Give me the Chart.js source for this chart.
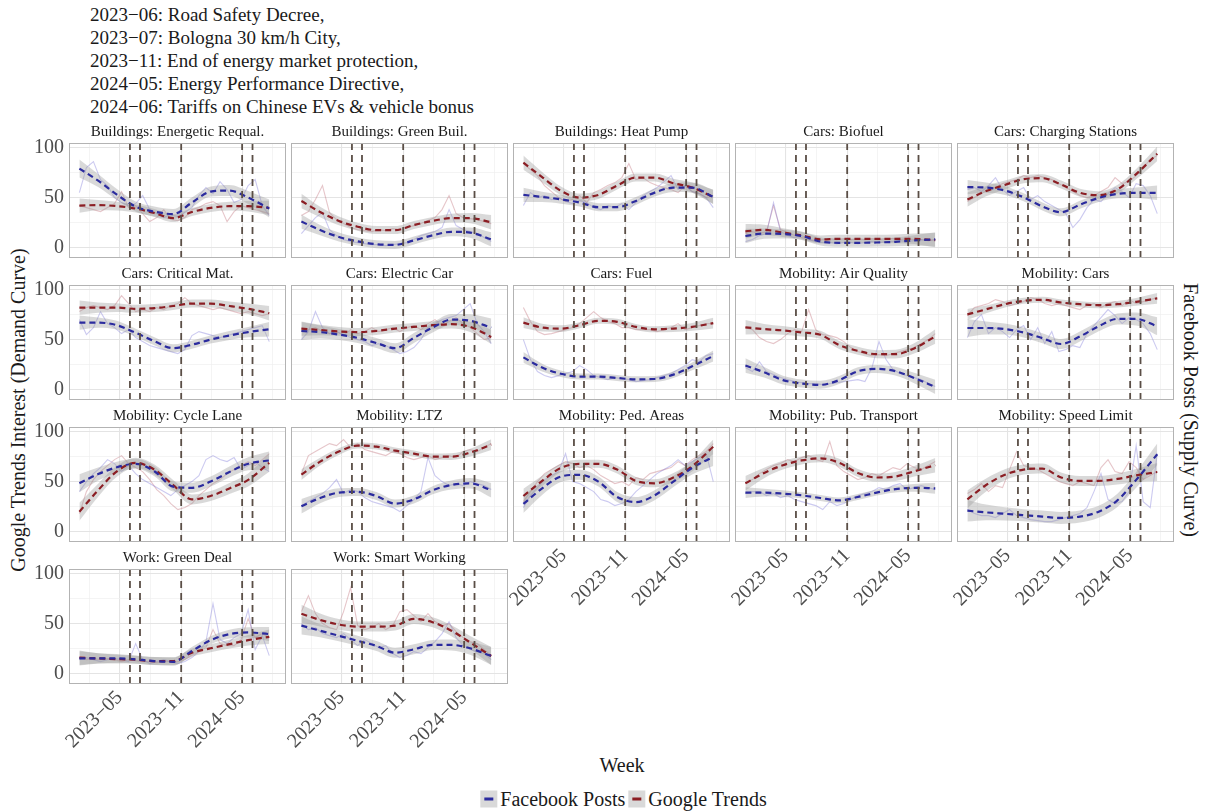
<!DOCTYPE html>
<html>
<head>
<meta charset="utf-8">
<script src="https://cdn.jsdelivr.net/npm/chart.js@4.4.1/dist/chart.umd.min.js"></script>
<style>
  body { margin: 0; background: #fff; width: 1205px; height: 811px; position: relative; overflow: hidden;
         font-family: 'Liberation Serif', 'DejaVu Serif', serif; color: #1a1a1a; }
  .panel { position: absolute; }
  #events { position: absolute; left: 90px; top: 3px; font-size: 19px; line-height: 23px; white-space: pre; }
  .axt { position: absolute; font-size: 20px; white-space: nowrap; }
  #ylab { left: 18px; top: 410px; transform: translate(-50%, -50%) rotate(-90deg); }
  #ylab2 { left: 1190px; top: 410px; transform: translate(-50%, -50%) rotate(90deg); }
  #xlab { left: 622px; top: 765px; transform: translate(-50%, -50%); }
  #legend { position: absolute; left: 625px; top: 799px; transform: translate(-50%, -50%);
            display: flex; align-items: center; font-size: 20px; white-space: nowrap; }
  .key { width: 17px; height: 17px; background: #d9d9d9; position: relative; margin-right: 3px; }
  .key span { position: absolute; left: 4px; top: 7px; width: 9px; height: 2.5px; }
  .item { display: flex; align-items: center; margin-right: 3px; }
</style>
</head>
<body>
<div id="events"></div>
<div class="axt" id="ylab">Google Trends Interest (Demand Curve)</div>
<div class="axt" id="ylab2">Facebook Posts (Supply Curve)</div>
<div class="axt" id="xlab">Week</div>
<div id="legend"></div>
<script>
// ---- data ----
const eventNotes = [
  '2023−06: Road Safety Decree,',
  '2023−07: Bologna 30 km/h City,',
  '2023−11: End of energy market protection,',
  '2024−05: Energy Performance Directive,',
  '2024−06: Tariffs on Chinese EVs & vehicle bonus'
];
const eventDates = ['2023-06-01', '2023-07-01', '2023-11-01', '2024-05-01', '2024-06-01'];

const facets = [
  'Buildings: Energetic Requal.', 'Buildings: Green Buil.', 'Buildings: Heat Pump', 'Cars: Biofuel', 'Cars: Charging Stations',
  'Cars: Critical Mat.', 'Cars: Electric Car', 'Cars: Fuel', 'Mobility: Air Quality', 'Mobility: Cars',
  'Mobility: Cycle Lane', 'Mobility: LTZ', 'Mobility: Ped. Areas', 'Mobility: Pub. Transport', 'Mobility: Speed Limit',
  'Work: Green Deal', 'Work: Smart Working'
];

const rawWeeks = [
  '2023-01-01', '2023-01-22', '2023-02-12', '2023-03-05', '2023-03-26', '2023-04-16', '2023-05-07',
  '2023-05-28', '2023-06-18', '2023-07-09', '2023-07-30', '2023-08-20', '2023-09-10', '2023-10-01',
  '2023-10-22', '2023-11-12', '2023-12-03', '2023-12-24', '2024-01-14', '2024-02-04', '2024-02-25',
  '2024-03-17', '2024-04-07', '2024-04-28', '2024-05-19', '2024-06-09', '2024-06-30', '2024-07-21'
];
const smoothWeeks = [
  '2023-01-01', '2023-02-26', '2023-04-23', '2023-06-18', '2023-08-13', '2023-10-08',
  '2023-12-03', '2024-01-28', '2024-03-24', '2024-05-19', '2024-07-21'
];

// weekly Facebook posts (raw)
const fbRaw = [
  [55, 80, 86, 68, 62, 50, 45, 42, 44, 52, 38, 34, 30, 33, 31, 35, 40, 52, 60, 54, 66, 58, 45, 48, 62, 68, 42, 32],
  [14, 22, 30, 35, 18, 12, 8, 6, 5, 4, 3, 3, 2, 3, 4, 5, 8, 12, 14, 16, 20, 38, 22, 18, 16, 14, 10, 6],
  [42, 55, 50, 52, 48, 50, 46, 44, 47, 45, 40, 38, 42, 40, 44, 38, 45, 52, 56, 60, 66, 72, 58, 62, 56, 54, 50, 40],
  [6, 8, 12, 14, 45, 16, 12, 10, 12, 8, 6, 5, 5, 4, 5, 5, 4, 5, 6, 5, 6, 6, 7, 6, 7, 8, 7, 8],
  [58, 60, 56, 62, 70, 58, 52, 56, 60, 48, 52, 46, 42, 38, 34, 20, 28, 40, 48, 46, 54, 60, 56, 50, 64, 62, 52, 34],
  [70, 55, 62, 78, 66, 62, 56, 60, 52, 48, 44, 42, 40, 38, 36, 40, 54, 58, 56, 54, 52, 54, 56, 58, 60, 62, 64, 48],
  [50, 58, 78, 62, 56, 58, 55, 52, 50, 48, 44, 46, 44, 40, 36, 38, 42, 50, 62, 66, 70, 72, 74, 80, 86, 66, 58, 46],
  [50, 30, 18, 14, 12, 14, 16, 18, 24, 20, 14, 12, 10, 12, 11, 10, 8, 9, 10, 12, 14, 16, 20, 24, 30, 28, 34, 36],
  [22, 18, 28, 18, 15, 12, 10, 8, 7, 6, 6, 5, 6, 7, 8, 9, 10, 8, 22, 48, 30, 20, 16, 14, 12, 10, 6, 3],
  [52, 68, 75, 56, 62, 58, 52, 60, 64, 50, 62, 46, 58, 38, 40, 44, 42, 56, 64, 72, 80, 74, 66, 72, 70, 66, 56, 40],
  [40, 50, 58, 64, 72, 68, 60, 66, 58, 52, 48, 44, 40, 36, 42, 46, 50, 56, 72, 76, 72, 70, 74, 62, 66, 70, 64, 60],
  [26, 30, 34, 38, 44, 52, 38, 42, 40, 34, 30, 28, 26, 24, 20, 26, 32, 40, 74, 56, 50, 46, 48, 46, 50, 48, 46, 42],
  [24, 36, 44, 52, 56, 60, 78, 50, 48, 44, 40, 32, 30, 26, 28, 32, 40, 46, 52, 58, 62, 66, 72, 66, 70, 74, 78, 50],
  [38, 40, 40, 36, 38, 34, 36, 32, 30, 28, 26, 22, 30, 26, 28, 32, 36, 38, 40, 44, 42, 46, 48, 42, 44, 46, 44, 42],
  [22, 18, 16, 16, 14, 18, 22, 16, 14, 12, 11, 10, 10, 12, 14, 16, 18, 24, 40, 58, 32, 28, 30, 40, 86, 30, 24, 78],
  [14, 16, 14, 12, 14, 15, 14, 12, 30, 14, 10, 12, 14, 12, 10, 12, 16, 22, 32, 70, 34, 30, 36, 40, 64, 24, 38, 18],
  [50, 44, 46, 40, 38, 36, 40, 34, 28, 34, 30, 26, 28, 20, 16, 18, 22, 20, 26, 32, 40, 52, 36, 28, 24, 22, 20, 14]
];
// weekly Google Trends (raw)
const gtRaw = [
  [42, 40, 38, 36, 40, 44, 56, 40, 42, 34, 26, 30, 38, 28, 27, 30, 38, 40, 44, 46, 42, 26, 36, 42, 40, 38, 36, 34],
  [32, 36, 48, 62, 35, 28, 24, 20, 18, 17, 16, 18, 17, 19, 18, 20, 22, 24, 27, 30, 38, 52, 34, 30, 29, 28, 26, 24],
  [84, 78, 72, 62, 56, 50, 46, 48, 52, 45, 55, 58, 62, 65, 70, 84, 68, 70, 65, 62, 60, 58, 55, 62, 56, 54, 50, 52],
  [14, 16, 14, 16, 42, 18, 15, 12, 10, 8, 7, 8, 9, 8, 9, 8, 9, 8, 9, 8, 9, 9, 8, 9, 8, 8, 7, 8],
  [46, 50, 54, 58, 60, 64, 66, 68, 72, 70, 72, 70, 68, 64, 60, 56, 52, 50, 52, 56, 60, 70, 64, 66, 72, 80, 88, 92],
  [78, 82, 84, 82, 80, 84, 94, 86, 78, 80, 78, 82, 80, 84, 86, 92, 86, 84, 82, 80, 82, 80, 78, 76, 78, 76, 74, 76],
  [58, 60, 62, 58, 56, 58, 54, 60, 56, 58, 62, 58, 60, 62, 58, 62, 64, 60, 66, 70, 64, 68, 72, 66, 62, 56, 50, 52],
  [82, 68, 58, 55, 56, 58, 60, 62, 66, 72, 78, 72, 68, 66, 62, 62, 60, 60, 60, 58, 60, 62, 66, 60, 62, 64, 66, 66],
  [62, 60, 52, 48, 46, 50, 56, 60, 58, 80, 60, 55, 54, 52, 48, 42, 38, 36, 34, 35, 34, 36, 38, 40, 42, 46, 50, 56],
  [74, 82, 84, 86, 90, 88, 84, 86, 88, 92, 90, 86, 84, 86, 84, 82, 80, 84, 86, 82, 86, 88, 84, 90, 86, 88, 90, 92],
  [18, 40, 52, 60, 66, 72, 76, 68, 64, 60, 52, 42, 36, 28, 22, 24, 28, 36, 42, 48, 52, 58, 62, 66, 70, 66, 72, 78],
  [58, 76, 80, 84, 88, 86, 92, 84, 88, 82, 80, 78, 76, 80, 78, 74, 72, 74, 76, 72, 74, 76, 74, 80, 82, 80, 84, 88],
  [30, 40, 50, 58, 62, 66, 70, 68, 64, 66, 62, 56, 52, 48, 50, 46, 54, 52, 58, 60, 62, 64, 70, 66, 72, 76, 80, 88],
  [48, 52, 58, 62, 66, 68, 72, 70, 74, 76, 72, 70, 90, 66, 60, 56, 52, 54, 58, 56, 60, 64, 62, 68, 64, 62, 66, 70],
  [38, 42, 48, 40, 46, 44, 62, 80, 66, 64, 62, 58, 54, 50, 48, 46, 50, 48, 46, 64, 72, 60, 58, 70, 64, 52, 56, 60],
  [16, 14, 15, 14, 15, 14, 12, 14, 13, 12, 12, 11, 12, 12, 12, 14, 18, 22, 26, 44, 30, 28, 28, 34, 55, 36, 40, 36],
  [62, 78, 60, 50, 46, 44, 62, 86, 48, 44, 46, 50, 44, 48, 62, 64, 58, 52, 60, 52, 48, 50, 42, 36, 32, 30, 24, 18]
];
// loess fits
const fbSmooth = [
  [79, 67, 53, 41, 36, 33.5, 45, 56, 57, 50, 39],
  [26, 17.5, 10.6, 6.2, 3.4, 2.7, 7.2, 12.3, 15.8, 15, 8.2],
  [52.7, 50.7, 48.3, 45, 40.4, 40.4, 46.6, 55, 60, 60, 50.7],
  [11.6, 14, 13.6, 11.6, 6.1, 4.8, 4.8, 5.1, 5.8, 7.1, 8.2],
  [60.5, 60, 57, 50.3, 41.2, 35.4, 42.9, 49.7, 53.7, 54.8, 54.8],
  [67, 67, 64.4, 56.8, 48.3, 41.4, 44.9, 50, 54.1, 57.5, 60.3],
  [58.6, 57.5, 55, 51.7, 46.6, 41.4, 51.7, 62, 70, 68.8, 62],
  [32.2, 22, 15.8, 13, 13, 11.6, 10.3, 10.6, 15, 23.3, 33.6],
  [24.1, 17.3, 9.5, 6.1, 4.8, 9.5, 18.4, 20.7, 18.4, 11.6, 2.7],
  [61.6, 61.6, 60.5, 57.1, 51.4, 45.6, 53.1, 63.3, 70.7, 70.7, 63.3],
  [48.3, 57.5, 64.4, 67.8, 60.3, 45, 43.8, 50, 59.6, 67.8, 71.2],
  [25.3, 33.6, 39, 39.7, 35.6, 28, 32.2, 41.4, 46.6, 48.3, 41.4],
  [27.7, 43.2, 55.1, 56.8, 50, 34.6, 29.5, 36.3, 50, 63.7, 74.7],
  [39, 39, 38, 36.3, 33.6, 31.2, 34.6, 39, 42.5, 43.8, 43.2],
  [20.9, 19.2, 17.8, 16.4, 15, 13.7, 15, 19.9, 31.2, 51.7, 77.4],
  [15.2, 15.2, 15.2, 14.2, 12.5, 11.8, 22.6, 33.4, 39.5, 41.2, 39.5],
  [48, 42.9, 37.8, 32.8, 27.7, 20.9, 24.3, 28.7, 28.7, 25.3, 17.6]
];
const gtSmooth = [
  [42, 42.5, 41.5, 39, 34.6, 29.5, 35.6, 39.7, 41.4, 41.4, 39.7],
  [46.6, 35.6, 26.7, 20.9, 17.5, 17.5, 22.6, 26.7, 29.5, 29.5, 25.3],
  [85, 70.5, 56.8, 50, 52.7, 62, 70, 70, 64.4, 60, 50.7],
  [16.3, 17.7, 15, 12.2, 8.2, 8.8, 8.8, 8.8, 8.8, 8.8, 7.5],
  [48, 56.5, 62.6, 68.4, 69.4, 63, 54.8, 52.4, 58.2, 73.5, 93.9],
  [82, 82, 82, 80.8, 81.5, 83.6, 86, 86, 83.6, 80.8, 76.4],
  [61, 59.6, 58.2, 57.5, 58.6, 61, 62.7, 64.4, 65.4, 62.7, 52.7],
  [67, 62, 61, 64.4, 68.8, 67.8, 62.7, 60.3, 61, 62.7, 66.4],
  [62.3, 60.5, 59.2, 57.1, 54.8, 44.6, 38.8, 35.4, 35.4, 41.2, 53.1],
  [75.2, 80.3, 85.4, 88.8, 89.8, 87.1, 85.4, 84.4, 85.4, 87.8, 91.2],
  [19.9, 41.4, 60.3, 68.8, 62, 46.6, 32.2, 35.6, 43.2, 51.7, 68.8],
  [57, 70, 80, 86, 85, 81, 78, 75, 75, 79, 87],
  [35.6, 50.7, 63.7, 67.8, 67.8, 62, 50.7, 48.3, 54.1, 65.4, 84.9],
  [48.3, 58.6, 66.4, 71.2, 73.3, 68.8, 58.6, 54.1, 55.1, 60.3, 66.4],
  [32.2, 46.6, 56.8, 62, 63, 54.1, 50.7, 50.7, 52.7, 56.2, 59.6],
  [15.9, 15.2, 14.5, 13.9, 12.5, 12.5, 20.9, 25.3, 29.4, 33.4, 36.8],
  [59.8, 53.7, 49, 47, 47, 48, 54.7, 51.4, 42.9, 31.1, 17.6]
];
// standard error of the fits, and how it widens toward the ends
const fbSe = [5, 4, 4, 4, 4, 4, 5, 3, 4, 5, 5, 4, 5, 3, 6, 4, 5];
const gtSe = [4, 4, 4, 4, 4, 4, 4, 3, 4, 3, 5, 3, 4, 4, 5, 4, 5];
const seShape = [1.8, 1.3, 1.1, 1, 1, 1, 1, 1, 1.1, 1.3, 1.8];

const xMajor = ['2023-05-01', '2023-11-01', '2024-05-01'];
const xMajorLabels = ['2023−05', '2023−11', '2024−05'];
const xMinor = ['2023-01-30', '2023-07-31', '2024-01-31', '2024-07-31'];
const xRange = ['2022-12-01', '2024-09-09'];
const yTicks = [0, 25, 50, 75, 100];
const yRange = [-10.4, 104.6];

// ---- layout ----
const SERIF = "'Liberation Serif', 'DejaVu Serif', serif";
const colLeft = [69, 291, 513, 735, 957];
const rowTop = [143, 285, 427, 569];
const PW = 217, PH = 115, STRIP = 21;
const FB = '#2b2b9e', GT = '#8b1e24';

document.getElementById('events').textContent = eventNotes.join('\n');
document.getElementById('legend').innerHTML =
  '<div class="item"><div class="key"><span style="background:' + FB + '"></span></div>Facebook Posts</div>' +
  '<div class="item"><div class="key"><span style="background:' + GT + '"></span></div>Google Trends</div>';

const day = s => Date.parse(s + 'T00:00:00Z') / 86400000;
const majorVals = xMajor.map(day);
const xTickVals = xMajor.concat(xMinor).map(day).sort((a, b) => a - b);

const panelBorder = {
  id: 'panelBorder',
  afterDraw(chart) {
    const { ctx, chartArea: a } = chart;
    ctx.save();
    ctx.strokeStyle = '#b3b3b3';
    ctx.lineWidth = 1;
    ctx.strokeRect(a.left + 0.5, a.top + 0.5, a.width - 1, a.height - 1);
    ctx.restore();
  }
};

facets.forEach((name, i) => {
  const col = i % 5, row = Math.floor(i / 5);
  const showY = col === 0;
  const showX = row === 3 || (row === 2 && col >= 2);
  const padL = (showY || showX) ? 60 : 0;
  const padB = showX ? 80 : 0;

  const div = document.createElement('div');
  div.className = 'panel';
  const w = PW + padL, h = PH + STRIP + padB;
  div.style.left = (colLeft[col] - padL) + 'px';
  div.style.top = (rowTop[row] - STRIP) + 'px';
  const cv = document.createElement('canvas');
  cv.width = w; cv.height = h;
  cv.style.width = w + 'px'; cv.style.height = h + 'px';
  div.appendChild(cv);
  document.body.appendChild(div);

  const smoothPts = (arr) => smoothWeeks.map((d, k) => ({ x: day(d), y: arr[k] }));
  const bandPts = (arr, se, sign) => smoothWeeks.map((d, k) => ({ x: day(d), y: arr[k] + sign * se * seShape[k] }));
  const rawPts = (arr) => rawWeeks.map((d, k) => ({ x: day(d), y: arr[k] }));

  const datasets = [];
  // raw series
  datasets.push({ data: rawPts(fbRaw[i]), borderColor: 'rgba(120,115,215,0.38)', borderWidth: 1.1, pointRadius: 0, order: 5 });
  datasets.push({ data: rawPts(gtRaw[i]), borderColor: 'rgba(190,105,115,0.38)', borderWidth: 1.1, pointRadius: 0, order: 5 });
  // confidence bands
  [[fbSmooth[i], fbSe[i]], [gtSmooth[i], gtSe[i]]].forEach(([s, se]) => {
    datasets.push({ data: bandPts(s, se, 1), borderWidth: 0, pointRadius: 0, fill: '+1',
      backgroundColor: 'rgba(150,150,150,0.36)', cubicInterpolationMode: 'monotone', order: 3 });
    datasets.push({ data: bandPts(s, se, -1), borderWidth: 0, pointRadius: 0, fill: false,
      cubicInterpolationMode: 'monotone', order: 3 });
  });
  // fitted lines
  datasets.push({ data: smoothPts(fbSmooth[i]), borderColor: FB, borderWidth: 2.2, borderDash: [6, 4],
    pointRadius: 0, cubicInterpolationMode: 'monotone', order: 2 });
  datasets.push({ data: smoothPts(gtSmooth[i]), borderColor: GT, borderWidth: 2.2, borderDash: [6, 4],
    pointRadius: 0, cubicInterpolationMode: 'monotone', order: 2 });
  // policy events
  eventDates.forEach(d => {
    datasets.push({ data: [{ x: day(d), y: yRange[0] }, { x: day(d), y: yRange[1] }], borderColor: '#5a4e46',
      borderWidth: 1.8, borderDash: [7, 5], pointRadius: 0, order: 1 });
  });

  new Chart(cv, {
    type: 'line',
    data: { datasets },
    options: {
      responsive: false,
      animation: false,
      events: [],
      layout: { padding: 0 },
      plugins: {
        legend: { display: false },
        tooltip: { enabled: false },
        title: { display: true, text: name, fullSize: false, color: '#1a1a1a',
          font: { family: SERIF, size: 15, weight: 'normal', lineHeight: 1.2 }, padding: { top: 1, bottom: 2 } }
      },
      scales: {
        x: {
          type: 'linear', min: day(xRange[0]), max: day(xRange[1]),
          afterBuildTicks: s => { s.ticks = xTickVals.map(v => ({ value: v })); },
          afterFit: s => { s.height = padB; s.paddingLeft = 0; s.paddingRight = 0; },
          ticks: { display: showX, autoSkip: false, minRotation: 45, maxRotation: 45, padding: 2,
            color: '#4d4d4d', font: { family: SERIF, size: 20 },
            callback: v => { const k = majorVals.indexOf(v); return k >= 0 ? xMajorLabels[k] : ''; } },
          grid: { drawTicks: false,
            color: c => majorVals.includes(c.tick.value) ? '#e4e4e4' : '#efefef',
            lineWidth: c => majorVals.includes(c.tick.value) ? 1.1 : 0.7 },
          border: { display: false }
        },
        y: {
          min: yRange[0], max: yRange[1],
          afterBuildTicks: s => { s.ticks = yTicks.map(v => ({ value: v })); },
          afterFit: s => { s.width = padL; s.paddingTop = 0; s.paddingBottom = 0; },
          ticks: { display: showY, padding: 5, color: '#4d4d4d', font: { family: SERIF, size: 20 },
            callback: v => (v % 50 === 0 ? String(v) : '') },
          grid: { drawTicks: false,
            color: c => (c.tick.value % 50 === 0 ? '#e4e4e4' : '#efefef'),
            lineWidth: c => (c.tick.value % 50 === 0 ? 1.1 : 0.7) },
          border: { display: false }
        }
      }
    },
    plugins: [panelBorder]
  });
});
</script>
</body>
</html>
